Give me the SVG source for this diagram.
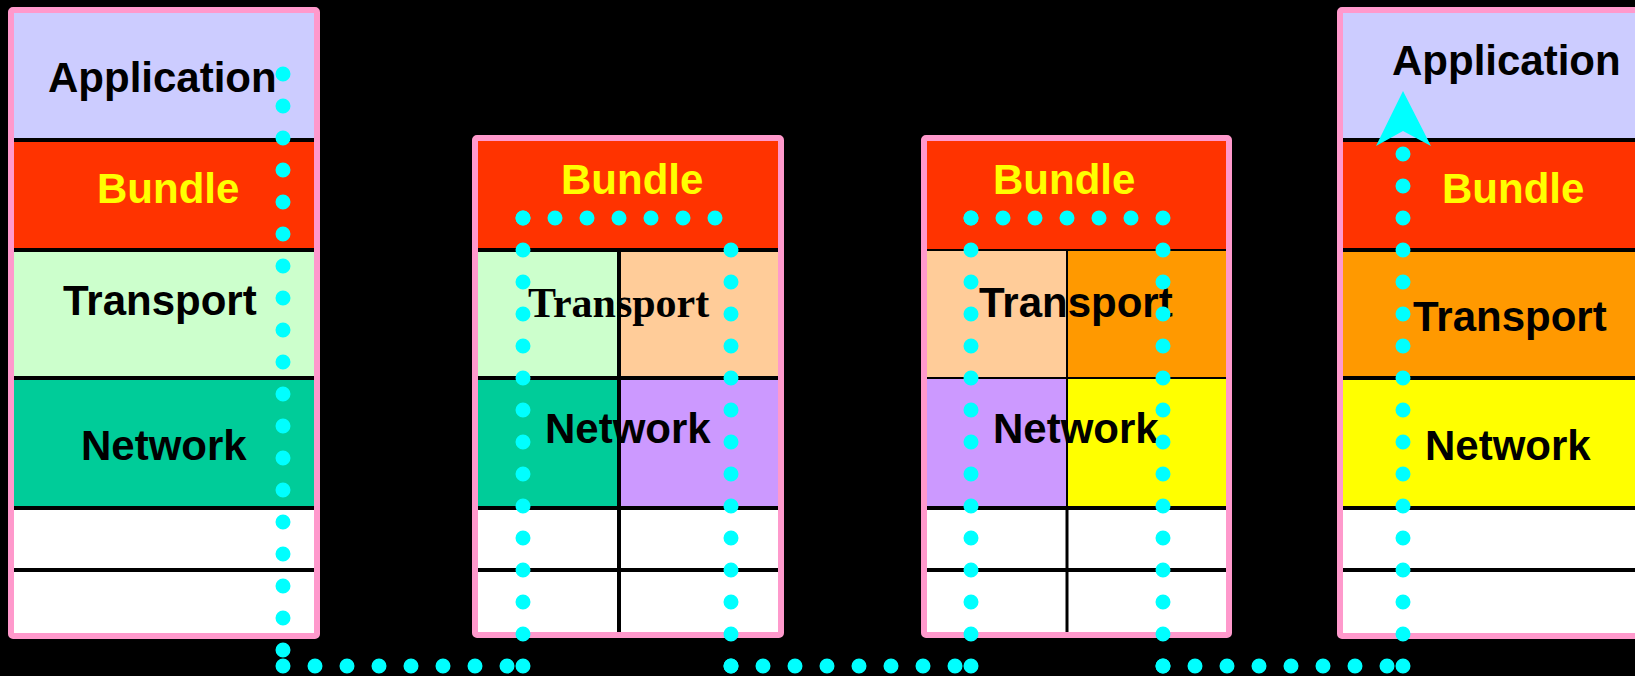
<svg xmlns="http://www.w3.org/2000/svg" width="1635" height="676" viewBox="0 0 1635 676">
<style>
.lbl{font-family:"Liberation Sans",Arial,sans-serif;font-weight:bold;font-size:42px;fill:#000}
.serif{font-family:"Liberation Serif","Times New Roman",serif;font-weight:bold;font-size:42px;fill:#000}
.bun{fill:#FFFF00}
.sep{stroke:#000;stroke-width:4;fill:none}
.thin{stroke:#000;stroke-width:2;fill:none}
.frame{fill:none;stroke:#FF99CC;stroke-width:6}
.dots{fill:none;stroke:#00FFFF;stroke-width:15;stroke-linecap:round;stroke-dasharray:0 32}
</style>
<rect width="1635" height="676" fill="#000"/>

<g id="node1">
<rect x="14" y="13" width="300" height="127" fill="#CCCCFF"/>
<rect x="14" y="140" width="300" height="110" fill="#FF3300"/>
<rect x="14" y="250" width="300" height="128" fill="#CCFFCC"/>
<rect x="14" y="378" width="300" height="130" fill="#00CC99"/>
<rect x="14" y="508" width="300" height="125" fill="#FFFFFF"/>
<path class="sep" d="M14,140H314M14,250H314M14,378H314M14,508H314M14,570H314"/>
<rect class="frame" x="11" y="10" width="306" height="626" rx="2"/>
<text class="lbl" x="48" y="92">Application</text>
<text class="lbl bun" x="97" y="203">Bundle</text>
<text class="lbl" x="63" y="315">Transport</text>
<text class="lbl" x="81" y="460">Network</text>
</g>

<g id="node2">
<rect x="478" y="141" width="300" height="109" fill="#FF3300"/>
<rect x="478" y="250" width="141" height="128" fill="#CCFFCC"/>
<rect x="619" y="250" width="159" height="128" fill="#FFCC99"/>
<rect x="478" y="378" width="141" height="130" fill="#00CC99"/>
<rect x="619" y="378" width="159" height="130" fill="#CC99FF"/>
<rect x="478" y="508" width="300" height="124" fill="#FFFFFF"/>
<path class="sep" d="M478,250H778M478,378H778M478,508H778M478,570H778M619,250V632"/>
<rect class="frame" x="475" y="138" width="306" height="497" rx="2"/>
<text class="lbl bun" x="561" y="194">Bundle</text>
<text class="serif" x="528" y="317">Transport</text>
<text class="lbl" x="545" y="443">Network</text>
</g>

<g id="node3">
<rect x="927" y="141" width="299" height="109" fill="#FF3300"/>
<rect x="927" y="250" width="140" height="128" fill="#FFCC99"/>
<rect x="1067" y="250" width="159" height="128" fill="#FF9900"/>
<rect x="927" y="378" width="140" height="130" fill="#CC99FF"/>
<rect x="1067" y="378" width="159" height="130" fill="#FFFF00"/>
<rect x="927" y="508" width="299" height="124" fill="#FFFFFF"/>
<path class="thin" d="M927,250H1226M927,378H1226M1067,250V508"/>
<path class="sep" d="M927,508H1226M927,570H1226"/>
<path d="M1067,508V632" stroke="#000" stroke-width="3" fill="none"/>
<rect class="frame" x="924" y="138" width="305" height="497" rx="2"/>
<text class="lbl bun" x="993" y="194">Bundle</text>
<text class="lbl" x="979" y="317">Transport</text>
<text class="lbl" x="993" y="443">Network</text>
</g>

<g id="node4">
<rect x="1342" y="13" width="300" height="127" fill="#CCCCFF"/>
<rect x="1342" y="140" width="300" height="110" fill="#FF3300"/>
<rect x="1342" y="250" width="300" height="128" fill="#FF9900"/>
<rect x="1342" y="378" width="300" height="130" fill="#FFFF00"/>
<rect x="1342" y="508" width="300" height="125" fill="#FFFFFF"/>
<path class="sep" d="M1342,140H1642M1342,250H1642M1342,378H1642M1342,508H1642M1342,570H1642"/>
<rect class="frame" x="1340" y="10" width="306" height="626" rx="2"/>
<text class="lbl" x="1392" y="75">Application</text>
<text class="lbl bun" x="1442" y="203">Bundle</text>
<text class="lbl" x="1413" y="331">Transport</text>
<text class="lbl" x="1425" y="460">Network</text>
</g>

<g id="connectors">
<path class="dots" d="M283,74V650.5"/>
<path class="dots" d="M283,666H507.5"/>
<path class="dots" d="M523,666V217.5"/>
<path class="dots" d="M523,218H715.5"/>
<path class="dots" d="M731,250V666.5"/>
<path class="dots" d="M731,666H955.5"/>
<path class="dots" d="M971,666V217.5"/>
<path class="dots" d="M971,218H1163.5"/>
<path class="dots" d="M1163,250V666.5"/>
<path class="dots" d="M1163,666H1387.5"/>
<path class="dots" d="M1403,666V153.5"/>
<polygon points="1403,91 1431,146 1403,131 1376,146" fill="#00FFFF"/>
</g>
</svg>
